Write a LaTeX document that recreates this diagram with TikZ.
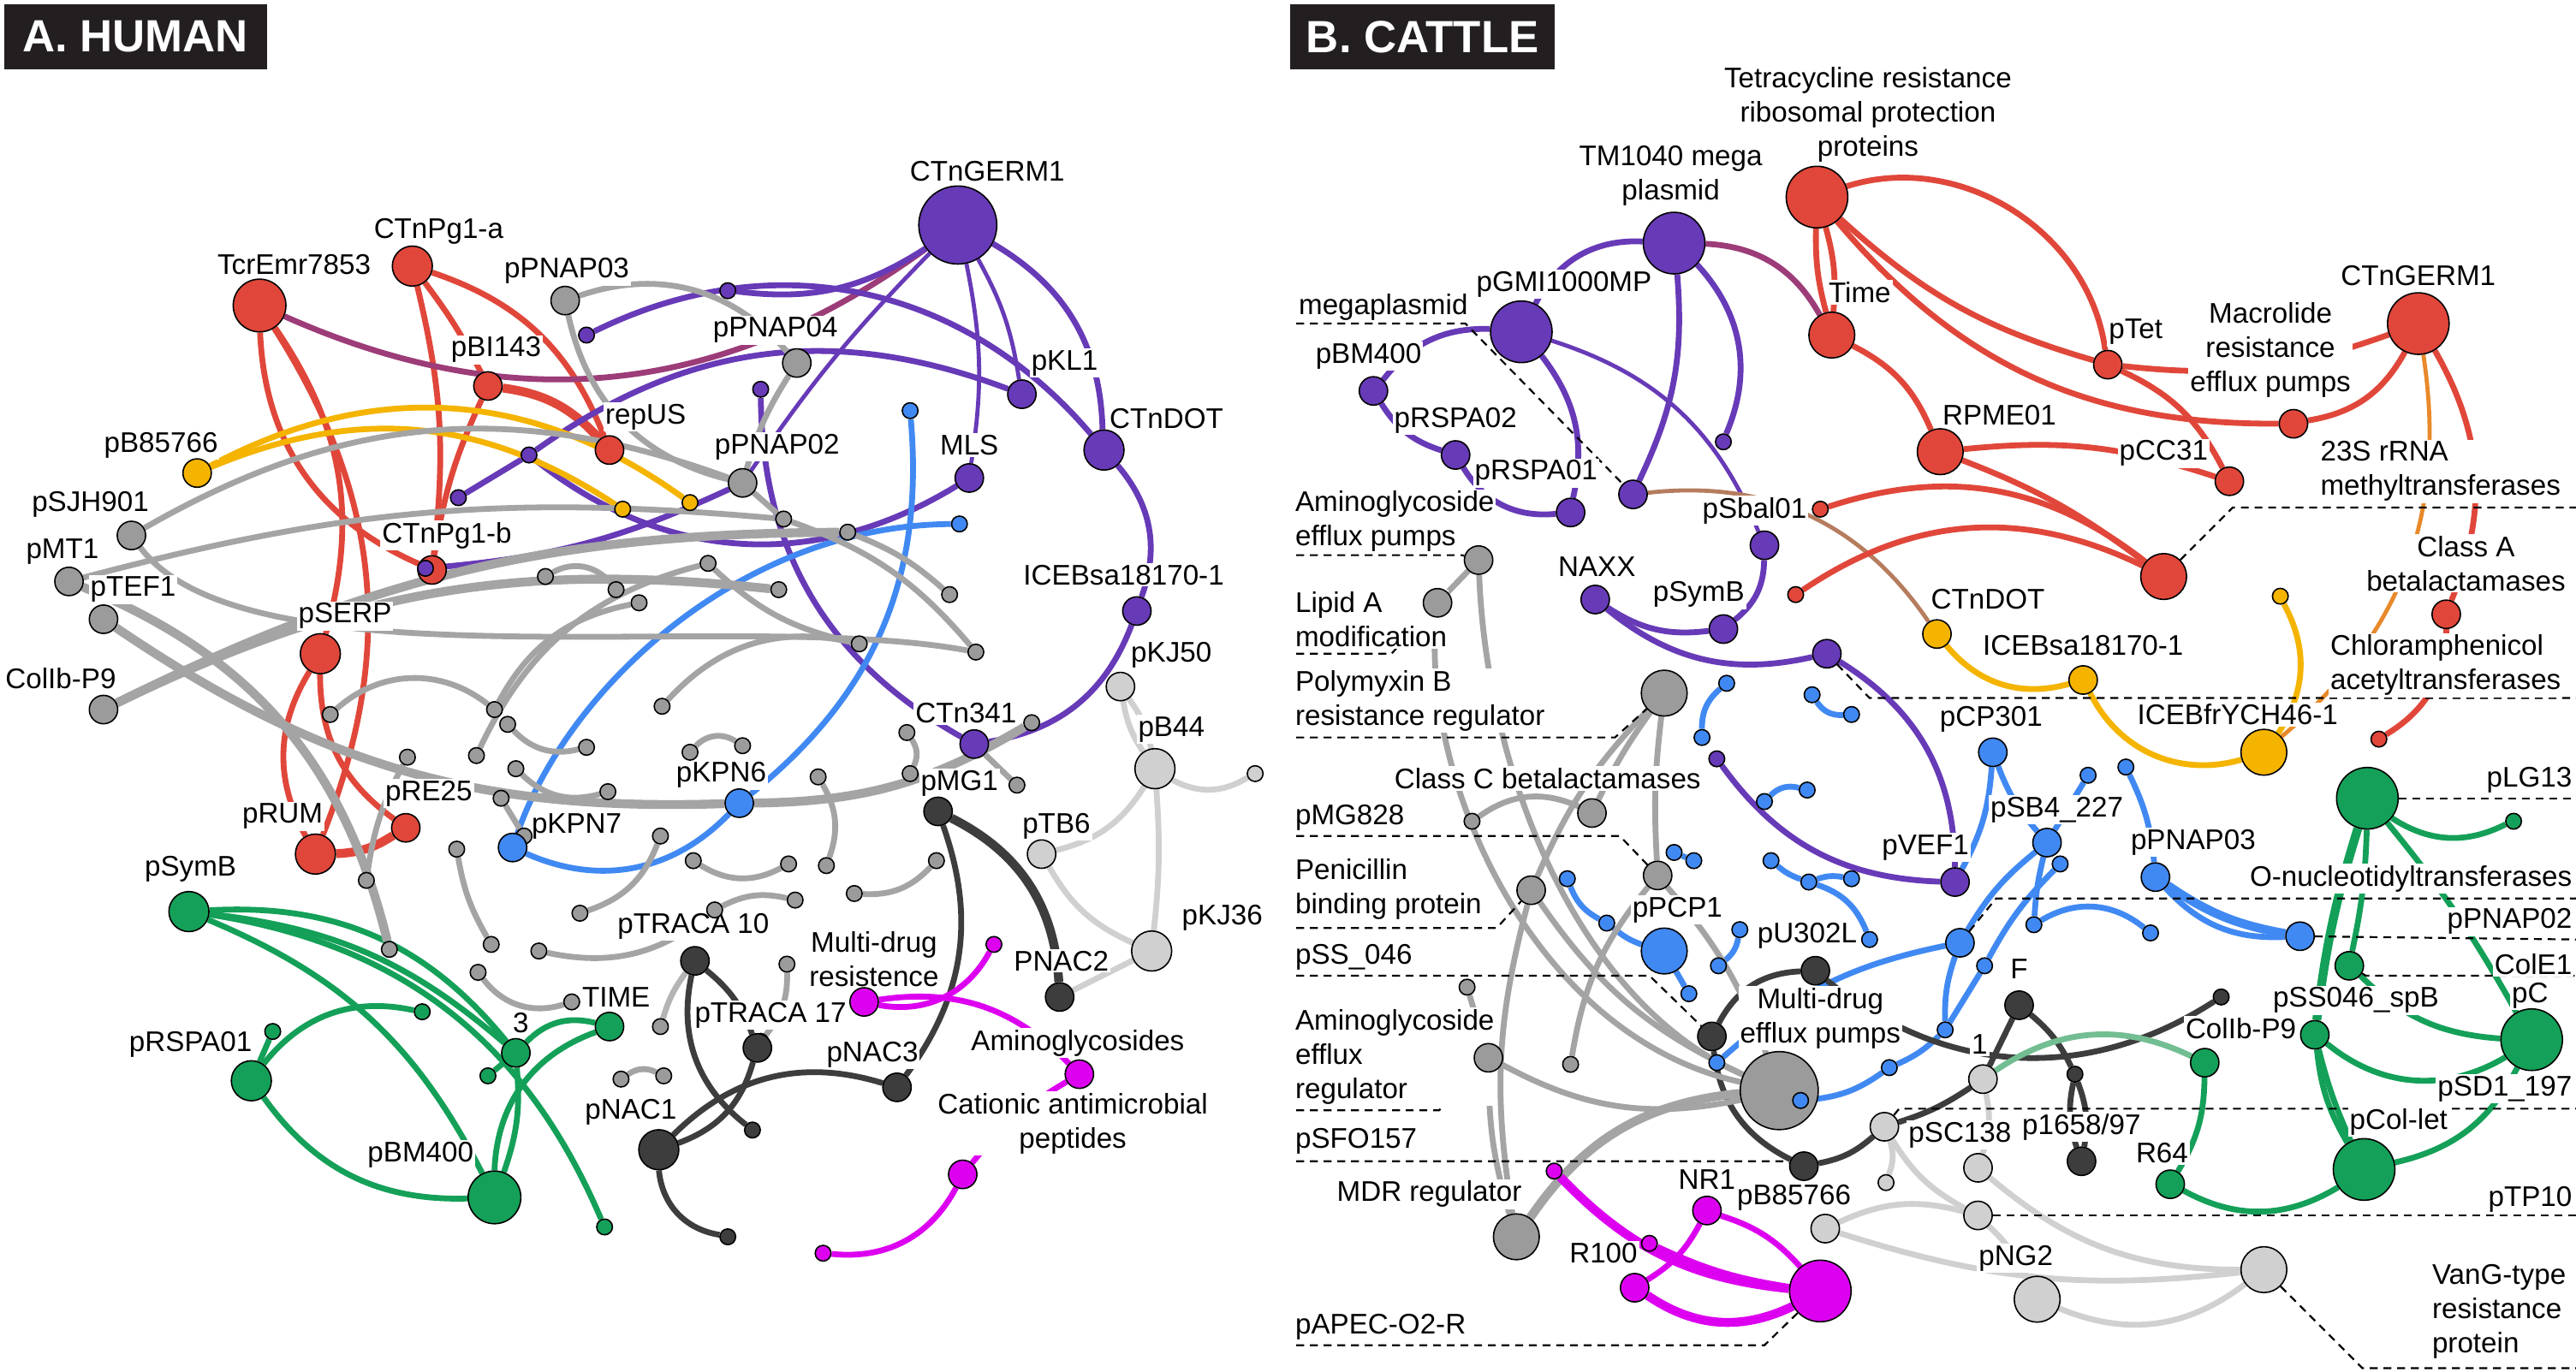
\documentclass[tikz,border=0pt]{standalone}
\usepackage{fontspec}
\setmainfont{Liberation Sans}
\pgfdeclarelayer{base}
\pgfdeclarelayer{edges}
\pgfdeclarelayer{labs}
\pgfsetlayers{base,edges,labs,main}
\definecolor{cred}{HTML}{E0473A}
\definecolor{cpurp}{HTML}{673AB7}
\definecolor{cgray}{HTML}{9B9B9B}
\definecolor{cgrayE}{HTML}{A4A4A4}
\definecolor{clgray}{HTML}{D0D0D0}
\definecolor{cmgray}{HTML}{B4B4B4}
\definecolor{cdark}{HTML}{3D3D3D}
\definecolor{cgreen}{HTML}{14A058}
\definecolor{cblue}{HTML}{4189F2}
\definecolor{cyell}{HTML}{F4B400}
\definecolor{cmag}{HTML}{DD00F0}
\definecolor{cmauve}{HTML}{9C3C78}
\definecolor{corange}{HTML}{E8892A}
\definecolor{cbrown}{HTML}{B67C5E}
\definecolor{clgreen}{HTML}{72BE92}
\definecolor{ctitle}{HTML}{231F20}
\begin{document}
\begin{tikzpicture}[x=0.48pt,y=-0.48pt,
  dot/.style={circle,draw=black,line width=0.4pt,inner sep=0pt},
  zT/.style={minimum size=4.6pt},
  zS/.style={minimum size=8.3pt},
  zM/.style={minimum size=11.7pt},
  zL/.style={minimum size=13.4pt},
  zX/.style={minimum size=15.4pt},
  zXX/.style={minimum size=18pt},
  zH/.style={minimum size=22.8pt},
  nRed/.style={dot,fill=cred},
  nPur/.style={dot,fill=cpurp},
  nGry/.style={dot,fill=cgray},
  nLgy/.style={dot,fill=clgray},
  nDrk/.style={dot,fill=cdark},
  nGrn/.style={dot,fill=cgreen},
  nBlu/.style={dot,fill=cblue},
  nYel/.style={dot,fill=cyell},
  nMag/.style={dot,fill=cmag},
  ed/.style={line width=1.7pt},
  wA/.style={line width=1.2pt},
  wC/.style={line width=2.6pt},
  eR/.style={ed,draw=cred},
  eP/.style={ed,draw=cpurp},
  eG/.style={ed,draw=cgrayE},
  eLG/.style={ed,draw=clgray},
  eMg/.style={ed,draw=cmgray},
  eD/.style={ed,draw=cdark},
  eGr/.style={ed,draw=cgreen},
  eB/.style={ed,draw=cblue},
  eY/.style={ed,draw=cyell},
  eM/.style={ed,draw=cmag},
  eMv/.style={ed,draw=cmauve},
  eOr/.style={ed,draw=corange},
  eBr/.style={ed,draw=cbrown},
  eLGr/.style={ed,draw=clgreen},
  lab/.style={fill=white,inner sep=0.5pt,font=\fontsize{8.3}{10}\selectfont},
  lead/.style={draw=black,line width=0.55pt,dash pattern=on 2.3pt off 1.7pt},
  ttl/.style={fill=ctitle,text=white,font=\bfseries\fontsize{13.2}{14}\selectfont,anchor=north west,inner sep=0pt,minimum height=19.2pt}
]
\useasboundingbox (0,0) rectangle (1568,835);
\begin{pgfonlayer}{base}
\fill[white] (0,0) rectangle (1568,835);
\end{pgfonlayer}

% ================= PANEL A nodes =================
\foreach \n/\x/\y in {1/332/351,2/375/359,3/389/367,4/201/435,5/301/432,6/309/441,7/357/455,8/290/460,9/248/461,10/314/468,11/370/482,12/305/486,13/319/509,14/278/517,15/223/536,16/353/556,17/237/578,18/299/575,19/328/579,20/291/592,21/348/610,22/378/657,23/477/316,24/516/324,25/431/343,26/474/359,27/578/362,28/594/397,29/523/392,30/403/430,31/628/440,32/552/446,33/420/458,34/452/454,35/554/471,36/498/473,37/619/478,38/402/509,39/422/524,40/480/526,41/503/527,42/570/524,43/520/544,44/484/548,45/435/554,46/479/587,47/402/625,48/404/655,49/463/634}
  {\node[nGry,zT] (Ag\n) at (\x,\y) {};}

\node[nPur,zH] (Agerm) at (583,137) {};
\node[nRed,zX] (Atcr) at (158,186) {};
\node[nRed,zM] (Apg1a) at (251,162) {};
\node[nGry,zS] (Apnap03) at (344,183) {};
\node[nRed,zS] (Abi) at (297,235) {};
\node[nRed,zS] (Arep) at (371,274) {};
\node[nPur,zT] (Asp0) at (357,204) {};
\node[nPur,zT] (Asp1) at (443,177) {};
\node[nGry,zS] (Apnap04) at (485,221) {};
\node[nPur,zT] (Asp2) at (463,237) {};
\node[nPur,zS] (Akl1) at (622,240) {};
\node[nPur,zM] (Adot) at (672,274) {};
\node[nPur,zS] (Amls) at (590,291) {};
\node[nBlu,zT] (Abs1) at (554,250) {};
\node[nBlu,zT] (Abs2) at (584,319) {};
\node[nGry,zS] (Agp02) at (452,294) {};
\node[nYel,zT] (Ay1) at (379,310) {};
\node[nYel,zT] (Ay2) at (420,306) {};
\node[nYel,zS] (Ab857) at (120,288) {};
\node[nPur,zT] (Asp3) at (322,277) {};
\node[nPur,zT] (Asp4) at (279,303) {};
\node[nGry,zS] (Asjh) at (80,326) {};
\node[nGry,zS] (Amt1) at (42,354) {};
\node[nGry,zS] (Atef1) at (63,377) {};
\node[nGry,zS] (Acol) at (63,432) {};
\node[nRed,zS] (Apg1b) at (263,347) {};
\node[nPur,zT] (Apg1bp) at (259,346) {};
\node[nRed,zM] (Aserp) at (195,398) {};
\node[nRed,zM] (Arum) at (192,520) {};
\node[nRed,zS] (Are25) at (247,504) {};
\node[nGrn,zM] (Asymb) at (115,555) {};
\node[nBlu,zS] (Akpn7) at (312,516) {};
\node[nPur,zS] (Aice) at (692,372) {};
\node[nPur,zS] (Actn) at (593,453) {};
\node[nLgy,zS] (Akj50) at (682,418) {};
\node[nLgy,zM] (Ab44) at (703,468) {};
\node[nLgy,zT] (Algs) at (764,471) {};
\node[nLgy,zS] (Atb6) at (634,520) {};
\node[nLgy,zM] (Akj36) at (701,579) {};
\node[nDrk,zS] (Amg1) at (571,494) {};
\node[nBlu,zS] (Akpn6) at (450,489) {};
\node[nDrk,zS] (Apnac2) at (645,607) {};
\node[nDrk,zS] (Atr10) at (423,585) {};
\node[nDrk,zS] (Atr17) at (461,638) {};
\node[nDrk,zS] (Anac3) at (546,662) {};
\node[nDrk,zM] (Anac1) at (401,700) {};
\node[nDrk,zT] (Ads1) at (458,688) {};
\node[nDrk,zT] (Ads2) at (443,753) {};
\node[nMag,zS] (Amdr) at (526,610) {};
\node[nMag,zT] (Ams1) at (605,575) {};
\node[nMag,zS] (Aamg) at (657,654) {};
\node[nMag,zS] (Acat) at (586,715) {};
\node[nMag,zT] (Ams2) at (501,763) {};
\node[nGrn,zM] (Arspa) at (153,658) {};
\node[nGrn,zT] (Ags1) at (166,628) {};
\node[nGrn,zT] (Ags2) at (257,616) {};
\node[nGrn,zS] (Athree) at (314,641) {};
\node[nGrn,zT] (Ags3) at (297,655) {};
\node[nGrn,zS] (Atime) at (371,625) {};
\node[nGrn,zX] (Abm) at (301,729) {};
\node[nGrn,zT] (Ags4) at (368,747) {};

% ================= PANEL B nodes =================
\node[nPur,zXX] (Btm) at (1019,148) {};
\node[nRed,zXX] (Btet) at (1106,120) {};
\node[nPur,zXX] (Bgmi) at (926,202) {};
\node[nRed,zL] (Btime) at (1115,204) {};
\node[nPur,zS] (Bbm) at (836,238) {};
\node[nPur,zS] (Brspa2) at (886,277) {};
\node[nPur,zS] (Brspa1) at (956,312) {};
\node[nPur,zS] (Bmega) at (994,301) {};
\node[nPur,zT] (Bsp1) at (1049,269) {};
\node[nPur,zS] (Bsbal) at (1074,332) {};
\node[nPur,zS] (Bsymb) at (1049,383) {};
\node[nRed,zT] (Brs1) at (1108,310) {};
\node[nRed,zT] (Brs2) at (1093,362) {};
\node[nPur,zS] (Bnaxx) at (971,365) {};
\node[nPur,zS] (Bchl) at (1112,398) {};
\node[nGry,zS] (Baep) at (900,341) {};
\node[nGry,zS] (Blipa) at (875,367) {};
\node[nGry,zL] (Bpoly) at (1013,422) {};
\node[nGry,zS] (Bclassc) at (969,495) {};
\node[nGry,zT] (Bgs1) at (896,500) {};
\node[nPur,zT] (Bps1) at (1045,462) {};
\node[nGry,zS] (Bpmg) at (1009,533) {};
\node[nGry,zS] (Bpen) at (932,542) {};
\node[nBlu,zL] (Bpcp1) at (1013,579) {};
\node[nDrk,zS] (Bdk1) at (1105,591) {};
\node[nDrk,zS] (Bss046) at (1042,631) {};
\node[nGry,zH] (Bbig) at (1083,664) {};
\node[nGry,zS] (Baer) at (906,644) {};
\node[nGry,zT] (Bgs2) at (893,601) {};
\node[nGry,zT] (Bgs3) at (956,648) {};
\foreach \n/\x/\y in {1/1051/416,2/1036/449,3/1103/423,4/1127/435,5/1100/481,6/1074/488,7/1019/519,8/1031/524,9/1078/524,10/1101/537,11/1127/535,12/954/535,13/978/562,14/1059/566,15/1046/588,16/1028/605,17/1045/647,18/1096/670,19/1150/650,20/1238/563,21/1309/568,22/1208/588,23/1184/627,24/1271/472,25/1294/467,26/1254/526}
  {\node[nBlu,zT] (Bq\n) at (\x,\y) {};}
\node[nBlu,zT] (Bu302) at (1138,572) {};
\node[nDrk,zS] (Bb857d) at (1098,710) {};
\node[nLgy,zS] (Bb857) at (1111,748) {};
\node[nGry,zL] (Bmdr) at (923,753) {};
\node[nMag,zT] (Bms1) at (946,713) {};
\node[nMag,zS] (Bnr1) at (1039,737) {};
\node[nMag,zS] (Br100) at (995,784) {};
\node[nMag,zT] (Bms2) at (1004,757) {};
\node[nMag,zXX] (Bapec) at (1108,786) {};
\node[nLgy,zS] (BlgB) at (1147,686) {};
\node[nLgy,zT] (Blgs) at (1148,720) {};
\node[nDrk,zS] (BF) at (1229,612) {};
\node[nLgy,zS] (BlgA) at (1207,657) {};
\node[nDrk,zT] (Bds1) at (1263,654) {};
\node[nDrk,zS] (Bp1658) at (1267,707) {};
\node[nLgy,zS] (Bsc138) at (1204,711) {};
\node[nLgy,zS] (BlgC) at (1204,740) {};
\node[nGrn,zS] (Br64) at (1321,721) {};
\node[nGrn,zS] (Bcol) at (1342,647) {};
\node[nDrk,zT] (Bds2) at (1352,607) {};
\node[nGrn,zS] (Bspb) at (1409,630) {};
\node[nGrn,zS] (Bcole1) at (1430,588) {};
\node[nGrn,zXX] (Bpc) at (1541,633) {};
\node[nGrn,zXX] (Bcolet) at (1439,712) {};
\node[nLgy,zL] (Bpng2) at (1240,791) {};
\node[nLgy,zL] (Bvang) at (1378,773) {};
\node[nBlu,zS] (Bpnap02) at (1400,570) {};
\node[nBlu,zS] (Bonuc) at (1193,574) {};
\node[nRed,zS] (Bpcc31) at (1357,293) {};
\node[nRed,zL] (B23s) at (1317,351) {};
\node[nRed,zL] (Brpme) at (1181,275) {};
\node[nRed,zS] (Bptet) at (1283,222) {};
\node[nRed,zS] (Bmac) at (1396,258) {};
\node[nRed,zXX] (Bgerm) at (1472,197) {};
\node[nRed,zS] (Bclassa) at (1489,374) {};
\node[nRed,zT] (Brs3) at (1448,450) {};
\node[nYel,zS] (Bctndot) at (1179,386) {};
\node[nYel,zS] (Bicesa) at (1268,414) {};
\node[nYel,zL] (Bicefr) at (1378,458) {};
\node[nYel,zT] (Bys) at (1388,363) {};
\node[nBlu,zS] (Bcp301) at (1213,458) {};
\node[nPur,zS] (Bvef1) at (1190,537) {};
\node[nBlu,zS] (Bsb4) at (1246,513) {};
\node[nBlu,zS] (Bpnap03) at (1312,534) {};
\node[nGrn,zXX] (Blg13) at (1441,486) {};
\node[nGrn,zT] (Bgs) at (1530,500) {};

% titles
\node[ttl,minimum width=76.8pt] (tA) at (2,2) {A. HUMAN};
\node[ttl,minimum width=77.3pt] (tB) at (785,2) {B. CATTLE};

% ================= EDGES =================
\begin{pgfonlayer}{edges}
% ---- A red
\draw[eR] (Atcr) to[bend right=32] (Apg1b);
\draw[eR] (Atcr) to[bend left=25] (Aserp);
\draw[eR] (Atcr) to[bend left=27] (Arum);
\draw[eR] (Apg1a) to[bend left=5] (Abi);
\draw[eR] (Abi) to[bend right=8] (Apg1b);
\draw[eR] (Apg1a) to[bend left=10] (Apg1b);
\draw[eR] (Apg1a) to[bend left=25] (Arep);
\draw[eR,wC] (Abi) to[bend left=20] (Arep);
\draw[eR] (Aserp) to[bend right=30] (Arum);
\draw[eR] (Aserp) to[bend right=27] (Are25);
\draw[eR,wC] (Arum) to[bend right=15] (Are25);
\draw[eMv] (Atcr) to[bend right=30] (Agerm);
% ---- A purple
\draw[eP] (Agerm) to[bend left=20] (Asp1);
\draw[eP] (Asp0) to[bend left=38] (Adot);
\draw[eP] (Agerm) to[bend left=29] (Adot);
\draw[eP,wA] (Agerm) to[bend left=10] (Akl1);
\draw[eP,wA] (Agerm) to[bend left=10] (Amls);
\draw[eP,wA] (Agerm) to[bend right=5] (Agp02);
\draw[eP] (Asp2) to[bend right=30] (Actn);
\draw[eP] (Apg1bp) to[bend right=10] (Agp02);
\draw[eP] (Asp3) to[bend right=35] (Amls);
\draw[eP] (Asp4) -- (Asp3);
\draw[eP] (Asp3) to[bend left=28] (Akl1);
\draw[eP] (Adot) to[bend left=30] (Aice);
\draw[eP] (Aice) to[bend left=30] (Actn);
% ---- A yellow
\draw[eY] (Ab857) to[bend left=28] (Ay1);
\draw[eY] (Ab857) to[bend left=32] (Ay2);
% ---- A blue
\draw[eB] (Akpn7) .. controls (345,420) and (450,320) .. (Abs2);
\draw[eB] (Akpn7) to[bend right=35] (Akpn6);
\draw[eB] (Akpn6) to[bend right=28] (Abs1);
% ---- A green
\draw[eGr] (Asymb) to[bend left=17] (Athree);
\draw[eGr] (Asymb) to[bend left=27] (Athree);
\draw[eGr] (Asymb) to[bend left=29] (Ags4);
\draw[eGr] (Asymb) to[bend left=20] (Abm);
\draw[eGr] (Arspa) -- (Ags1);
\draw[eGr] (Arspa) to[bend left=32] (Ags2);
\draw[eGr] (Arspa) to[bend right=28] (Abm);
\draw[eGr] (Athree) to[bend left=30] (Atime);
\draw[eGr] (Athree) -- (Ags3);
\draw[eGr] (Atime) to[bend right=34] (Abm);
\draw[eGr] (Athree) to[bend left=12] (Abm);
% ---- A dark
\draw[eD,wC] (Amg1) to[bend left=30] (Apnac2);
\draw[eD] (Amg1) to[bend left=28] (Anac3);
\draw[eD] (Atr10) to[bend right=32] (Ads1);
\draw[eD] (Atr10) to[bend left=15] (Atr17);
\draw[eD] (Atr17) to[bend left=27] (Anac1);
\draw[eD] (Anac1) to[bend left=31] (Anac3);
\draw[eD] (Anac1) to[bend right=38] (Ads2);
% ---- A magenta
\draw[eM] (Amdr) to[bend right=36] (Ams1);
\draw[eM] (Amdr) to[bend left=27] (Aamg);
\draw[eM] (Acat) to[bend left=34] (Ams2);
\draw[eM] (Acat) to[bend left=10] (Aamg);
% ---- A light gray
\draw[eLG] (Akj50) to[bend left=12] (Ab44);
\draw[eLG] (Akj50) to[bend right=12] (Ab44);
\draw[eLG] (Ab44) to[bend right=30] (Algs);
\draw[eLG] (Ab44) to[bend left=22] (Atb6);
\draw[eLG] (Atb6) to[bend right=18] (Akj36);
\draw[eLG] (Ab44) to[bend left=5] (Akj36);
\draw[eLG] (Akj36) -- (Apnac2);
% ---- A gray
\draw[eG] (Apnap03) to[bend left=34] (Apnap04);
\draw[eG] (Apnap03) to[bend right=32] (Agp02);
\draw[eG] (Apnap04) to[bend right=8] (Agp02);
\draw[eG] (Agp02) -- (Ag23);
\draw[eG] (Asjh) to[bend left=25] (Agp02);
\draw[eG] (Amt1) to[bend left=10] (Ag23);
\draw[eG] (Asjh) .. controls (150,420) and (450,370) .. (Ag28);
\draw[eG,wC] (Acol) to[bend left=13] (Ag24);
\draw[eG,wC] (Acol) to[bend left=16] (Ag26);
\draw[eG,wC] (Atef1) to[bend right=18] (Akpn6);
\draw[eG,wC] (Akpn6) to[bend right=15] (Ag31);
\draw[eG,wC] (Amt1) to[bend left=27] (Ag17);
\draw[eG] (Ag1) to[bend left=40] (Ag2);
\draw[eG] (Ag4) to[bend left=40] (Ag5);
\draw[eG] (Ag8) to[bend left=25] (Ag25);
\draw[eG] (Ag5) to[bend left=25] (Ag3);
\draw[eG] (Ag6) to[bend right=30] (Ag7);
\draw[eG] (Ag10) to[bend right=30] (Ag11);
\draw[eG] (Ag12) -- (Ag13);
\draw[eG] (Ag14) to[bend right=10] (Ag18);
\draw[eG] (Ag16) to[bend right=25] (Ag38);
\draw[eG] (Ag20) to[bend right=35] (Ag21);
\draw[eG] (Ag19) to[bend right=25] (Ag45);
\draw[eG] (Ag22) to[bend left=30] (Ag48);
\draw[eG] (Ag25) to[bend right=15] (Ag29);
\draw[eG] (Ag30) to[bend left=30] (Ag29);
\draw[eG] (Ag24) to[bend left=10] (Ag27);
\draw[eG] (Ag23) to[bend left=15] (Ag28);
\draw[eG] (Ag33) to[bend left=40] (Ag34);
\draw[eG] (Ag32) to[bend left=30] (Ag35);
\draw[eG] (Ag36) to[bend left=25] (Ag41);
\draw[eG] (Ag39) to[bend right=30] (Ag40);
\draw[eG] (Ag42) to[bend left=25] (Ag43);
\draw[eG] (Ag44) to[bend right=20] (Ag45);
\draw[eG] (Actn) -- (Ag37);
\draw[eMg] (Atr10) to[bend right=10] (Ag47);
\draw[eG] (Ag46) to[bend left=20] (Ag49);
\draw[eG] (Ag9) to[bend right=10] (Ag15);

% ---- B purple
\draw[eP] (Btm) to[bend right=33] (Bgmi);
\draw[eP] (Btm) to[bend left=15] (Bmega);
\draw[eP] (Btm) to[bend left=33] (Bsp1);
\draw[eMv] (Btm) to[bend left=29] (Btime);
\draw[eP] (Bgmi) to[bend right=27] (Bbm);
\draw[eP] (Bgmi) to[bend left=25] (Brspa1);
\draw[eP,wA] (Bgmi) to[bend left=25] (Bsbal);
\draw[eP] (Bbm) to[bend right=20] (Brspa2);
\draw[eP] (Brspa2) to[bend right=32] (Brspa1);
\draw[eBr,wA] (Bmega) to[bend left=31] (Bctndot);
\draw[eP] (Bsbal) to[bend left=25] (Bsymb);
\draw[eP] (Bnaxx) to[bend right=20] (Bsymb);
\draw[eP] (Bnaxx) to[bend right=26] (Bchl);
\draw[eP] (Bchl) to[bend left=29] (Bvef1);
\draw[eP] (Bps1) to[bend right=26] (Bvef1);
% ---- B red
\draw[eR] (Btet) to[bend right=8] (Btime);
\draw[eR] (Btet) to[bend left=10] (Btime);
\draw[eR] (Btet) to[bend left=50] (Bptet);
\draw[eR] (Btet) to[bend right=13] (Bptet);
\draw[eR] (Btet) to[bend right=25] (Bmac);
\draw[eR] (Btime) to[bend left=20] (Brpme);
\draw[eR] (Brpme) to[bend left=8] (B23s);
\draw[eR] (Brpme) to[bend left=12] (Bpcc31);
\draw[eR] (Bptet) to[bend left=19] (Bpcc31);
\draw[eR] (Bptet) to[bend right=13] (Bgerm);
\draw[eR] (Bmac) to[bend right=26] (Bgerm);
\draw[eOr,wA] (Bgerm) to[bend left=29] (Bicefr);
\draw[eR] (Bgerm) to[bend left=26] (Bclassa);
\draw[eR] (Bclassa) to[bend left=29] (Brs3);
\draw[eR] (Brs1) to[bend left=28] (B23s);
\draw[eR] (Brs2) to[bend left=30] (B23s);
% ---- B yellow
\draw[eY] (Bctndot) to[bend right=33] (Bicesa);
\draw[eY] (Bicesa) to[bend right=40] (Bicefr);
\draw[eY] (Bys) to[bend left=31] (Bicefr);
% ---- B blue
\draw[eB] (Bcp301) to[bend left=12] (Bvef1);
\draw[eB] (Bcp301) to[bend right=10] (Bsb4);
\draw[eB] (Bq24) -- (Bsb4);
\draw[eB] (Bq25) to[bend left=10] (Bpnap03);
\draw[eB,wC] (Bpnap03) to[bend right=12] (Bpnap02);
\draw[eB] (Bpnap03) to[bend right=25] (Bpnap02);
\draw[eB] (Bsb4) to[bend right=5] (Bq20);
\draw[eB] (Bq26) to[bend right=8] (Bq22);
\draw[eB] (Bq20) to[bend left=35] (Bq21);
\draw[eB] (Bq22) -- (Bq23);
\draw[eB] (Bonuc) to[bend right=10] (Bq23);
\draw[eB] (Bq23) to[bend left=10] (Bq19);
\draw[eB] (Bq19) to[bend left=15] (Bq18);
\draw[eB] (Bsb4) to[bend right=10] (Bonuc);
\draw[eB] (Bpcp1) -- (Bq16);
\draw[eB] (Bq12) to[bend right=20] (Bq13);
\draw[eB] (Bq13) to[bend right=10] (Bpcp1);
\draw[eB] (Bq14) to[bend left=20] (Bq15);
\draw[eB] (Bq17) to[bend left=15] (Bonuc);
\draw[eB] (Bq9) to[bend right=10] (Bq10);
\draw[eB] (Bq10) to[bend left=15] (Bq11);
\draw[eB] (Bq10) to[bend left=25] (Bu302);
\draw[eB] (Bq7) -- (Bq8);
\draw[eB] (Bq5) to[bend right=30] (Bq6);
\draw[eB] (Bq3) to[bend right=30] (Bq4);
\draw[eB] (Bq1) to[bend right=25] (Bq2);
% ---- B dark
\draw[eD] (Bss046) to[bend left=30] (Bdk1);
\draw[eD] (Bss046) to[bend right=28] (Bb857d);
\draw[eD] (Bb857d) to[bend right=15] (BlgB);
\draw[eD] (BlgB) to[bend right=8] (BlgA);
\draw[eD] (BlgA) -- (BF);
\draw[eD] (BF) to[bend left=12] (Bds1);
\draw[eD] (Bds1) to[bend left=15] (Bp1658);
\draw[eD] (Bds1) to[bend right=15] (Bp1658);
\draw[eD] (Bdk1) to[bend right=36] (Bds2);
\draw[eLGr] (BlgA) to[bend left=30] (Bcol);
% ---- B light gray
\draw[eLG] (BlgB) to[bend left=20] (Blgs);
\draw[eLG] (BlgA) to[bend left=15] (Bsc138);
\draw[eLG] (BlgB) to[bend right=15] (BlgC);
\draw[eLG] (Bb857) to[bend left=20] (BlgC);
\draw[eLG] (Bb857) to[bend right=12] (Bvang);
\draw[eLG] (Bsc138) to[bend right=20] (Bvang);
\draw[eLG] (BlgC) to[bend left=10] (Bpng2);
\draw[eLG] (Bpng2) to[bend right=30] (Bvang);
% ---- B gray
\draw[eG] (Baep) -- (Blipa);
\draw[eG] (Baep) .. controls (905,470) and (960,610) .. (Bbig);
\draw[eG] (Blipa) .. controls (865,470) and (930,630) .. (Bbig);
\draw[eG] (Bpoly) to[bend right=5] (Bpmg);
\draw[eG] (Bpoly) to[bend right=10] (Bpen);
\draw[eG] (Bpoly) to[bend right=5] (Bclassc);
\draw[eG] (Bclassc) to[bend right=30] (Bgs1);
\draw[eG] (Bpmg) to[bend left=10] (Bbig);
\draw[eG] (Bpen) to[bend right=15] (Bbig);
\draw[eG] (Bpen) to[bend right=12] (Bmdr);
\draw[eG] (Baer) to[bend right=8] (Bmdr);
\draw[eG] (Baer) to[bend right=20] (Bbig);
\draw[eG,wC] (Bmdr) to[bend left=25] (Bbig);
\draw[eG] (Bgs2) -- (Baer);
\draw[eG] (Bgs3) to[bend left=15] (Bpmg);
% ---- B magenta
\draw[eM,wC] (Bms1) to[bend right=20] (Bapec);
\draw[eM] (Bnr1) to[bend left=15] (Bapec);
\draw[eM] (Br100) to[bend right=15] (Bnr1);
\draw[eM,wC] (Br100) to[bend right=30] (Bapec);
\draw[eM] (Bms2) to[bend right=8] (Bapec);
% ---- B green
\draw[eGr] (Blg13) to[bend right=30] (Bgs);
\draw[eGr,wC] (Blg13) to[bend right=5] (Bspb);
\draw[eGr] (Blg13) to[bend left=5] (Bcole1);
\draw[eGr] (Blg13) to[bend left=5] (Bpc);
\draw[eGr] (Bcole1) to[bend right=20] (Bpc);
\draw[eGr] (Bspb) to[bend right=35] (Bpc);
\draw[eGr] (Bspb) to[bend right=5] (Bcolet);
\draw[eGr] (Bspb) to[bend right=12] (Bcolet);
\draw[eGr] (Bpc) to[bend left=25] (Bcolet);
\draw[eGr] (Bcolet) to[bend left=30] (Br64);
\draw[eGr] (Br64) to[bend right=15] (Bcol);
\end{pgfonlayer}

% ================= LEADERS and LABELS =================
\begin{pgfonlayer}{labs}
\coordinate (dM1) at (789,197); \coordinate (dM2) at (892,197);
\draw[lead] (dM1) -- (dM2) -- (Bmega);
\coordinate (dA1) at (789,338); \coordinate (dA2) at (890,338);
\draw[lead] (dA1) -- (dA2) -- (Baep);
\coordinate (dL1) at (789,398); \coordinate (dL2) at (847,398);
\draw[lead] (dL1) -- (dL2) -- (Blipa);
\coordinate (dP1) at (789,449); \coordinate (dP2) at (983,449);
\draw[lead] (dP1) -- (dP2) -- (Bpoly);
\coordinate (dG1) at (789,509); \coordinate (dG2) at (986,509);
\draw[lead] (dG1) -- (dG2) -- (Bpmg);
\coordinate (dN1) at (789,565); \coordinate (dN2) at (911,565);
\draw[lead] (dN1) -- (dN2) -- (Bpen);
\coordinate (dS1) at (789,594); \coordinate (dS2) at (1004,594);
\draw[lead] (dS1) -- (dS2) -- (Bss046);
\coordinate (dE1) at (789,676); \coordinate (dE2) at (876,676);
\draw[lead] (dE1) -- (dE2) -- (Baer);
\coordinate (dF1) at (789,707); \coordinate (dF2) at (1085,707);
\draw[lead] (dF1) -- (dF2) -- (Bb857d);
\coordinate (dR1) at (789,819); \coordinate (dR2) at (1074,819);
\draw[lead] (dR1) -- (dR2) -- (Bapec);
\coordinate (dV1) at (1438,833); \coordinate (dV2) at (1568,833);
\draw[lead] (Bvang) -- (dV1) -- (dV2);
\coordinate (dT1) at (1568,740);
\draw[lead] (BlgC) -- (dT1);
\coordinate (dD1) at (1156,675); \coordinate (dD2) at (1568,675);
\draw[lead] (BlgB) -- (dD1) -- (dD2);
\coordinate (dLg) at (1568,486);
\draw[lead] (Blg13) -- (dLg);
\coordinate (dO1) at (1215,547); \coordinate (dO2) at (1568,547);
\draw[lead] (Bonuc) -- (dO1) -- (dO2);
\coordinate (dPn) at (1568,572);
\draw[lead] (Bpnap02) -- (dPn);
\coordinate (dC1) at (1440,594); \coordinate (dC2) at (1568,594);
\draw[lead] (Bcole1) -- (dC1) -- (dC2);
\coordinate (dH1) at (1138,425); \coordinate (dH2) at (1568,425);
\draw[lead] (Bchl) -- (dH1) -- (dH2);
\coordinate (dZ1) at (1359,309); \coordinate (dZ2) at (1568,309);
\draw[lead] (B23s) -- (dZ1) -- (dZ2);

% --- A labels
\node[lab] (lAgerm) at (601,104) {CTnGERM1};
\node[lab] (lAtcr) at (179,161) {TcrEmr7853};
\node[lab] (lApg1a) at (267,141) {CTnPg1-a};
\node[lab] (lApnap03) at (345,165) {pPNAP03};
\node[lab] (lAbi) at (302,213) {pBI143};
\node[lab] (lArep) at (393,254) {repUS};
\node[lab] (lApnap04) at (472,201) {pPNAP04};
\node[lab] (lAb857) at (98,271) {pB85766};
\node[lab] (lAsjh) at (55,307) {pSJH901};
\node[lab] (lAmt1) at (38,336) {pMT1};
\node[lab] (lAtef1) at (81,359) {pTEF1};
\node[lab] (lAcol) at (37,413) {ColIb-P9};
\node[lab] (lApg1b) at (272,326) {CTnPg1-b};
\node[lab] (lAserp) at (210,375) {pSERP};
\node[lab] (lArum) at (172,497) {pRUM};
\node[lab] (lAre25) at (261,483) {pRE25};
\node[lab] (lAsymb) at (116,529) {pSymB};
\node[lab] (lAkpn7) at (351,503) {pKPN7};
\node[lab] (lApnap02) at (473,272) {pPNAP02};
\node[lab] (lAmls) at (590,271) {MLS};
\node[lab] (lAkl1) at (648,221) {pKL1};
\node[lab] (lAdot) at (710,255) {CTnDOT};
\node[lab] (lAice) at (684,350) {ICEBsa18170-1};
\node[lab] (lActn) at (588,434) {CTn341};
\node[lab] (lAkj50) at (713,399) {pKJ50};
\node[lab] (lAb44) at (713,444) {pB44};
\node[lab] (lAtb6) at (643,503) {pTB6};
\node[lab] (lAkj36) at (744,559) {pKJ36};
\node[lab] (lAmg1) at (584,477) {pMG1};
\node[lab] (lAkpn6) at (439,472) {pKPN6};
\node[lab] (lApnac2) at (646,585) {PNAC2};
\node[lab] (lAtr10) at (422,564) {pTRACA 10};
\node[lab] (lAtr17) at (469,618) {pTRACA 17};
\node[lab] (lAnac3) at (531,642) {pNAC3};
\node[lab] (lAnac1) at (384,677) {pNAC1};
\node[lab,align=center] (lAmdr) at (532,584) {Multi-drug\\resistence};
\node[lab] (lAamg) at (656,635) {Aminoglycosides};
\node[lab,align=center] (lAcat) at (653,684) {Cationic antimicrobial\\peptides};
\node[lab] (lArspa) at (116,636) {pRSPA01};
\node[lab] (lA3) at (317,623) {3};
\node[lab] (lAtime) at (375,607) {TIME};
\node[lab] (lAbm) at (256,703) {pBM400};

% --- B labels
\node[lab,align=center] (lBtet) at (1137,70) {Tetracycline resistance\\ribosomal protection\\proteins};
\node[lab,align=center] (lBtm) at (1017,107) {TM1040 mega\\plasmid};
\node[lab] (lBgmi) at (952,173) {pGMI1000MP};
\node[lab] (lBmega) at (842,187) {megaplasmid};
\node[lab] (lBtime) at (1132,178) {Time};
\node[lab] (lBbm) at (833,217) {pBM400};
\node[lab] (lBrspa2) at (886,256) {pRSPA02};
\node[lab] (lBrspa1) at (935,288) {pRSPA01};
\node[lab,align=left,anchor=west] (lBaep) at (787,317.5) {Aminoglycoside\\efflux pumps};
\node[lab] (lBsbal) at (1068,311) {pSbal01};
\node[lab] (lBnaxx) at (972,345) {NAXX};
\node[lab] (lBsymb) at (1034,362) {pSymB};
\node[lab,align=left,anchor=west] (lBlipa) at (787,377) {Lipid A\\modification};
\node[lab,align=left,anchor=west] (lBpoly) at (787,426.5) {Polymyxin B\\resistance regulator};
\node[lab] (lBclassc) at (942,474) {Class C betalactamases};
\node[lab,anchor=west] (lBpmg) at (787,498) {pMG828};
\node[lab,align=left,anchor=west] (lBpen) at (787,541.5) {Penicillin\\binding protein};
\node[lab] (lBpcp1) at (1021,554) {pPCP1};
\node[lab,anchor=west] (lBss) at (787,583) {pSS\_046};
\node[lab] (lBu302) at (1100,570) {pU302L};
\node[lab,align=center] (lBmdep) at (1108,620) {Multi-drug\\efflux pumps};
\node[lab,align=left,anchor=west] (lBaer) at (787,643.5) {Aminoglycoside\\efflux\\regulator};
\node[lab,anchor=west] (lBsfo) at (787,695) {pSFO157};
\node[lab] (lBmdr) at (870,727) {MDR regulator};
\node[lab] (lBnr1) at (1039,718) {NR1};
\node[lab] (lBr100) at (976,763) {R100};
\node[lab] (lBb857) at (1092,729) {pB85766};
\node[lab,anchor=west] (lBapec) at (787,808) {pAPEC-O2-R};
\node[lab] (lBsc138) at (1193,691) {pSC138};
\node[lab] (lBp1658) at (1267,686) {p1658/97};
\node[lab] (lBr64) at (1316,702) {R64};
\node[lab] (lBcol) at (1364,626) {ColIb-P9};
\node[lab] (lBF) at (1229,590) {F};
\node[lab] (lB1) at (1205,636) {1};
\node[lab] (lBspb) at (1434,609) {pSS046\_spB};
\node[lab] (lBpc) at (1540,606) {pC};
\node[lab,anchor=east] (lBcole1) at (1567,587) {ColE1};
\node[lab,anchor=east] (lBpnap02) at (1567,561) {pPNAP02};
\node[lab,anchor=east] (lBsd1) at (1567,663) {pSD1\_197};
\node[lab] (lBcolet) at (1460,683) {pCol-let};
\node[lab,anchor=east] (lBtp10) at (1567,730) {pTP10};
\node[lab] (lBpng2) at (1227,766) {pNG2};
\node[lab,align=left,anchor=west] (lBvang) at (1479,798.7) {VanG-type\\resistance\\protein};
\node[lab,anchor=east] (lBlg13) at (1567,475) {pLG13};
\node[lab,anchor=east] (lBonuc) at (1567,535) {O-nucleotidyltransferases};
\node[lab] (lBcp301) at (1212,438) {pCP301};
\node[lab] (lBsb4) at (1252,493) {pSB4\_227};
\node[lab] (lBpnap03) at (1335,513) {pPNAP03};
\node[lab] (lBvef1) at (1172,516) {pVEF1};
\node[lab] (lBicefr) at (1362,435) {ICEBfrYCH46-1};
\node[lab] (lBicesa) at (1268,393) {ICEBsa18170-1};
\node[lab] (lBctndot) at (1210,365) {CTnDOT};
\node[lab,align=left,anchor=west] (lBchl) at (1417,405) {Chloramphenicol\\acetyltransferases};
\node[lab,align=center] (lBclassa) at (1501,343) {Class A\\betalactamases};
\node[lab,align=left,anchor=west] (lB23s) at (1411,287) {23S rRNA\\methyltransferases};
\node[lab,align=center] (lBmac) at (1382,213) {Macrolide\\resistance\\efflux pumps};
\node[lab] (lBptet) at (1300,202) {pTet};
\node[lab] (lBrpme) at (1217,253) {RPME01};
\node[lab] (lBpcc31) at (1317,276) {pCC31};
\node[lab] (lBgerm) at (1472,168) {CTnGERM1};
\end{pgfonlayer}
\end{tikzpicture}
\end{document}
